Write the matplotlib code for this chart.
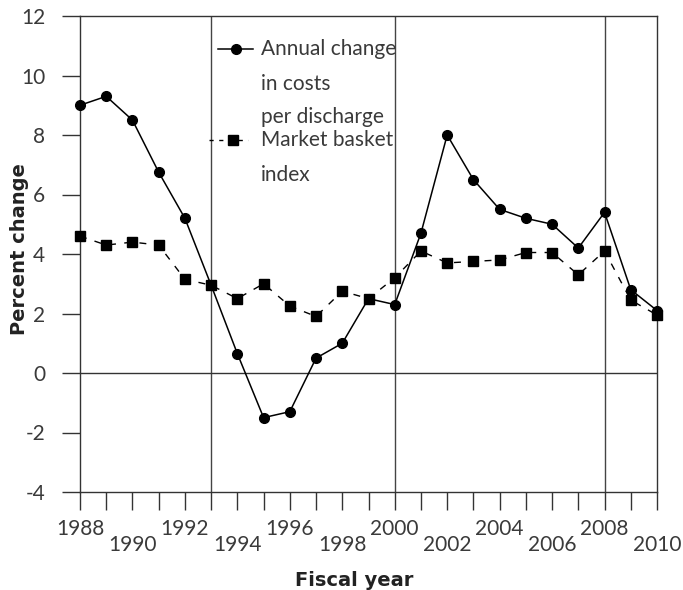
import matplotlib.pyplot as plt
from matplotlib.lines import Line2D

years = list(range(1988, 2011))
cost_change = [9.0, 9.3, 8.5, 6.75, 5.2, 2.95, 0.65, -1.5, -1.3, 0.5, 1.0, 2.5,
               2.3, 4.7, 8.0, 6.5, 5.5, 5.2, 5.0, 4.2, 5.4, 2.8, 2.1]
market_basket = [4.6, 4.3, 4.4, 4.3, 3.15, 2.95, 2.5, 3.0, 2.25, 1.9, 2.75, 2.5,
                 3.2, 4.1, 3.7, 3.75, 3.8, 4.05, 4.05, 3.3, 4.1, 2.45, 1.95]
ref_years = [1993, 2000, 2008]
label_years = list(range(1988, 2011, 2))
y_ticks = list(range(-4, 13, 2))

plt.rcParams['font.family'] = ['Lato', 'DejaVu Sans']
text_col = '#3a3a3a'

fig = plt.figure(figsize=(6.83, 5.9), dpi=100)
ax = fig.add_axes([80/683, 1 - 492/590, 577/683, 476/590])

for yr in ref_years:
    ax.axvline(yr, color='#444444', lw=1.0, zorder=1)
ax.axhline(0, color='#333333', lw=1.0, zorder=1)

ax.plot(years, market_basket, color='black', lw=1.0, ls=(0, (5, 6)),
        marker='s', markersize=7, clip_on=False, zorder=3)
ax.plot(years, cost_change, color='black', lw=1.1, ls='-',
        marker='o', markersize=7, clip_on=False, zorder=4)

ax.set_xlim(1988, 2010)
ax.set_ylim(-4, 12)
ax.set_yticks(y_ticks)
ax.set_yticklabels([str(v) for v in y_ticks], fontsize=15, color=text_col)
ax.set_xticks(years)
ax.set_xticklabels([])
ax.tick_params(axis='both', direction='out', length=13, width=1.0, color='#333333')
ax.tick_params(axis='y', pad=12)

for i, yr in enumerate(label_years):
    off = -0.078 if i % 2 == 0 else -0.112
    ax.text(yr, off, str(yr), transform=ax.get_xaxis_transform(), ha='center', va='center',
            fontsize=15, color=text_col)

for s in ax.spines.values():
    s.set_color('#333333')
    s.set_linewidth(1.0)

fig.text(20 / 683, 1 - 249/590, 'Percent change', rotation=90, ha='center', va='center',
         fontsize=14, fontweight='bold', family='DejaVu Sans', color='#222222')
fig.text(354 / 683, 1 - 580/590, 'Fiscal year', ha='center', va='center',
         fontsize=14, fontweight='bold', family='DejaVu Sans', color='#222222')

# legend drawn by hand so the handles sit on the first text line
tr = ax.transAxes
ax.add_line(Line2D([0.239, 0.300], [0.931, 0.931], transform=tr, color='black', lw=1.1,
                   zorder=5))
ax.add_line(Line2D([0.270], [0.931], transform=tr, color='black', marker='o', markersize=7,
                   zorder=5))
ax.add_line(Line2D([0.224, 0.291], [0.739, 0.739], transform=tr, color='black', lw=1.0,
                   ls=(0, (3, 4)), zorder=5))
ax.add_line(Line2D([0.265], [0.739], transform=tr, color='black', marker='s', markersize=7,
                   zorder=5))
legend_lines = [('Annual change', 0.931), ('in costs', 0.857), ('per discharge', 0.788),
                ('Market basket', 0.739), ('index', 0.666)]
for txt, yy in legend_lines:
    ax.text(0.314, yy, txt, transform=tr, ha='left', va='center', fontsize=15,
            color=text_col, zorder=5)

fig.savefig('out.png', dpi=100)
